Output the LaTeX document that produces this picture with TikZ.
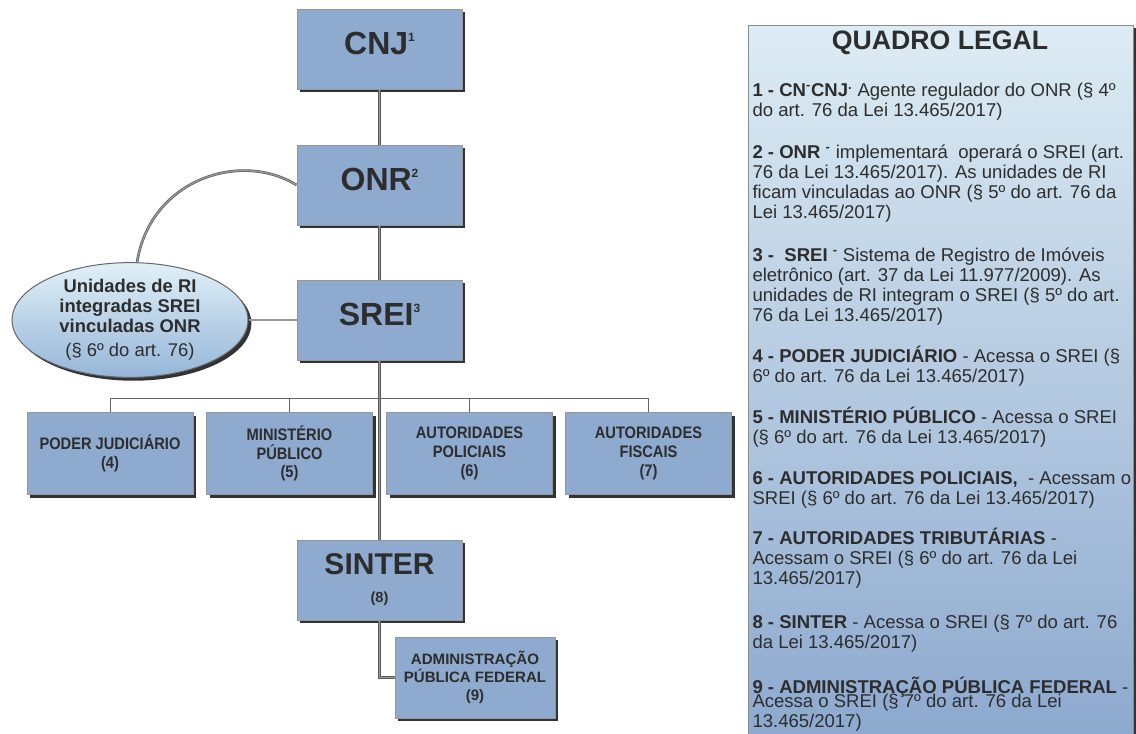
\documentclass[tikz,border=0pt]{standalone}
\usepackage{fontspec}
\setmainfont{Liberation Sans}
\newfontfamily\narrowfont[FakeStretch=0.88]{Liberation Sans}
\usetikzlibrary{shadows,shapes.geometric,positioning}

\definecolor{boxblue}{RGB}{142,170,206}
\definecolor{boxline}{RGB}{150,150,150}
\definecolor{inktext}{RGB}{45,45,45}
\definecolor{paletop}{RGB}{221,236,244}
\definecolor{palebottom}{RGB}{140,168,206}
\definecolor{ovaltop}{RGB}{224,240,248}
\definecolor{ovalbottom}{RGB}{150,182,216}

\newcommand{\boxsup}[1]{\raisebox{10pt}{\fontsize{9}{9}\selectfont #1}}

\tikzset{every picture/.style={line width=0.75pt}}
\tikzset{
  shade box/.style={drop shadow={shadow xshift=2.5pt,shadow yshift=-2.5pt,fill=black!80,opacity=1}},
  orgbox/.style={shade box,draw=boxline,fill=boxblue,text=inktext,align=center,inner sep=0pt},
  bigbox/.style={orgbox,minimum width=123.75pt,minimum height=60pt,text height=17pt,text depth=9pt,
    font=\bfseries\fontsize{24}{24}\selectfont},
  smallbox/.style={orgbox,minimum width=124.5pt,minimum height=62pt,
    font=\narrowfont\bfseries\fontsize{12.5}{14}\selectfont},
  link/.style={draw=black!65,line width=0.5pt,double=black!40,double distance=1pt},
  busline/.style={draw=black!60,line width=0.6pt},
  legaltext/.style={anchor=base west,inner sep=0pt,align=left,text=inktext,
    font=\fontsize{13.9}{15}\selectfont}
}

\begin{document}
\begin{tikzpicture}[x=0.75pt,y=0.75pt,yscale=-1,xscale=1]
\useasboundingbox (0,0) rectangle (1136,733);

%Quadro legal (base = last line of each block)
\node[shade box,draw=black!45,top color=paletop,bottom color=palebottom,
  minimum width=288.75pt,minimum height=540pt,inner sep=0pt] (legal) at (940.5,385) {};
\node[text=inktext,font=\bfseries\fontsize{20}{20}\selectfont] (legaltitle) at (940,43) {QUADRO LEGAL};

\node[legaltext] (l1) at (752,116) {{\bfseries 1 - CN\textsuperscript{-}CNJ\textsuperscript{.}} Agente regulador do ONR (§ 4º\\do art. 76 da Lei 13.465/2017)};
\node[legaltext] (l2) at (752,218) {{\bfseries 2 - ONR \textsuperscript{-}} implementará\ \ operará o SREI (art.\\76 da Lei 13.465/2017). As unidades de RI\\ficam vinculadas ao ONR (§ 5º do art. 76 da\\Lei 13.465/2017)};
\node[legaltext] (l3) at (752,321) {{\bfseries 3 -\ \ SREI \textsuperscript{-}} Sistema de Registro de Imóveis\\eletrônico (art. 37 da Lei 11.977/2009). As\\unidades de RI integram o SREI (§ 5º do art.\\76 da Lei 13.465/2017)};
\node[legaltext] (l4) at (752,382) {{\bfseries 4 - PODER JUDICIÁRIO} - Acessa o SREI (§\\6º do art. 76 da Lei 13.465/2017)};
\node[legaltext] (l5) at (752,443) {{\bfseries 5 - MINISTÉRIO PÚBLICO} - Acessa o SREI\\(§ 6º do art. 76 da Lei 13.465/2017)};
\node[legaltext] (l6) at (752,504) {{\bfseries 6 - AUTORIDADES POLICIAIS,}\ \ - Acessam o\\SREI (§ 6º do art. 76 da Lei 13.465/2017)};
\node[legaltext] (l7) at (752,584) {{\bfseries 7 - AUTORIDADES TRIBUTÁRIAS} -\\Acessam o SREI (§ 6º do art. 76 da Lei\\13.465/2017)};
\node[legaltext] (l8) at (752,648) {{\bfseries 8 - SINTER} - Acessa o SREI (§ 7º do art. 76\\da Lei 13.465/2017)};
\node[legaltext] (l9) at (752,727) {{\bfseries 9 - ADMINISTRAÇÃO PÚBLICA FEDERAL} -\\[-5pt]Acessa o SREI (§ 7º do art. 76 da Lei\\13.465/2017)};

%Organograma
\node[bigbox] (cnj) at (379.5,49) {CNJ\boxsup{1}};
\node[bigbox] (onr) at (379.5,185) {ONR\boxsup{2}};
\node[bigbox] (srei) at (379.5,320) {SREI\boxsup{3}};

\node[smallbox] (pj) at (110,453.5) {PODER JUDICIÁRIO\\(4)};
\node[smallbox] (mp) at (289.5,453.5) {MINISTÉRIO\\PÚBLICO\\(5)};
\node[smallbox] (ap) at (469.5,453.5) {AUTORIDADES\\POLICIAIS\\(6)};
\node[smallbox] (af) at (648.5,453.5) {AUTORIDADES\\FISCAIS\\(7)};

\node[orgbox,minimum width=123.75pt,minimum height=60pt] (sinter) at (379.5,580)
  {{\bfseries\fontsize{22.5}{22.5}\selectfont SINTER}\\[9pt]{\bfseries\fontsize{11}{11}\selectfont (8)}};
\node[orgbox,minimum width=120pt,minimum height=60.75pt,font=\bfseries\fontsize{11.3}{13.5}\selectfont] (apf) at (475,677.5)
  {ADMINISTRAÇÃO\\PÚBLICA FEDERAL\\(9)};

\node[ellipse,shade box,draw=black!60,top color=ovaltop,bottom color=ovalbottom,
  minimum width=177pt,minimum height=82.5pt,inner sep=0pt,align=center,text=inktext,
  font=\bfseries\fontsize{13.8}{15}\selectfont] (ri) at (130,320)
  {Unidades de RI\\integradas SREI\\vinculadas ONR\\[3pt]{\mdseries (§ 6º do art. 76)}};

%Ligacoes
\coordinate (bus) at (379.5,398);
\draw[link] (cnj) -- (onr);
\draw[link] (onr) -- (srei);
\draw[link] (srei) -- (sinter);
\draw[link] (sinter.south) |- (apf.west);
\draw[link] (ri) -- (srei);
\draw[link] (ri.83) .. controls (150,180) and (240,150) .. (onr.west);
\draw[busline] (pj.north |- bus) -- (af.north |- bus);
\draw[busline] (pj.north) -- (pj.north |- bus);
\draw[busline] (mp.north) -- (mp.north |- bus);
\draw[busline] (ap.north) -- (ap.north |- bus);
\draw[busline] (af.north) -- (af.north |- bus);

\end{tikzpicture}
\end{document}
